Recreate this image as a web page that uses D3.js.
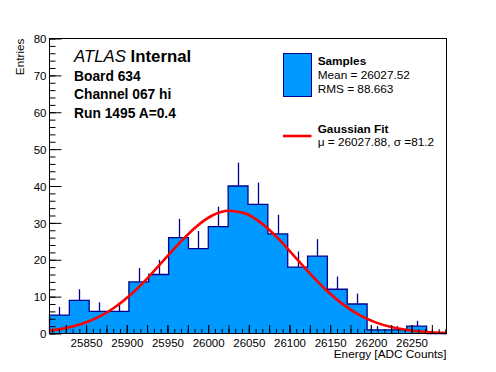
<!DOCTYPE html>
<html>
<head>
<meta charset="utf-8">
<script src="https://cdn.jsdelivr.net/npm/d3@7"></script>
<style>
	body { margin: 0; background: #fff; }
	text { font-family: "Liberation Sans", Arial, Helvetica, sans-serif; }
	.axis path { display: none; }
	.axis line { stroke: #000; }
</style>
</head>
<body>
<div id="chart"></div>
<script>
// histogram: 20 bins starting at BIN_LO, width BIN_W
var BIN_LO = 25805, BIN_W = 24.4;
var counts = [5, 9, 6, 6, 14, 16, 26, 23, 29, 40, 35, 27, 18, 21, 12, 8, 1, 1, 2, 0];

// gaussian fit curve
var fitX = [25805, 25825, 25845, 25865, 25885, 25905, 25925, 25945, 25965, 25985, 26005, 26025,
	26045, 26065, 26085, 26105, 26125, 26145, 26165, 26185, 26205, 26225, 26245, 26265, 26285, 26293];
var fitY = [0.77, 1.46, 2.63, 4.44, 7.06, 10.57, 14.9, 19.75, 24.6, 28.9, 32.0, 33.3,
	32.6, 30.0, 26.0, 21.2, 16.3, 11.8, 8.03, 5.14, 3.09, 1.75, 0.94, 0.47, 0.22, 0.16];

var xLabels = [25850, 25900, 25950, 26000, 26050, 26100, 26150, 26200, 26250];
var yLabels = [0, 10, 20, 30, 40, 50, 60, 70, 80];

var infoLines = ["Board 634", "Channel 067 hi", "Run 1495 A=0.4"];
var legendSamples = ["Mean = 26027.52", "RMS = 88.663"];
var legendFit = "\u03bc = 26027.88, \u03c3 =81.2";

const
	W = 496, H = 372,
	L = 49.5, R = 446.5, T = 38.5, B = 333.5,
	FILL = "#0099ff", LINE = "#00008f";

var svg = d3.select("#chart").append("svg")
	.attr("width", W).attr("height", H);

var x = d3.scaleLinear().domain([BIN_LO, BIN_LO + counts.length * BIN_W]).range([L, R]);
var y = d3.scaleLinear().domain([0, 80]).range([B, T]);

var bins = counts.map(function(c, i) {
	return {x0: BIN_LO + i * BIN_W, x1: BIN_LO + (i + 1) * BIN_W, n: c};
});

// step outline, also used as the filled shape
var steps = [[bins[0].x0, 0]];
bins.forEach(function(d) { steps.push([d.x0, d.n]); steps.push([d.x1, d.n]); });
steps.push([bins[bins.length - 1].x1, 0]);
var stepLine = d3.line().x(function(d) { return x(d[0]); }).y(function(d) { return y(d[1]); });

svg.append("path")
	.attr("d", stepLine(steps) + "Z")
	.style("fill", FILL).style("stroke", "none");
svg.append("path")
	.attr("d", stepLine(steps))
	.style("fill", "none").style("stroke", LINE).style("stroke-width", 1.3);

// error bars (upper half, lower part is hidden by the fill)
svg.append("g").selectAll("line")
	.data(bins.filter(function(d) { return d.n > 0; }))
	.enter().append("line")
	.attr("x1", function(d) { return Math.round(x((d.x0 + d.x1) / 2)) + .5; })
	.attr("x2", function(d) { return Math.round(x((d.x0 + d.x1) / 2)) + .5; })
	.attr("y1", function(d) { return y(d.n); })
	.attr("y2", function(d) { return y(d.n + Math.sqrt(d.n)); })
	.style("stroke", LINE).style("stroke-width", 1.3);

// fit curve
svg.append("path")
	.attr("d", d3.line().curve(d3.curveMonotoneX)
		.x(function(d, i) { return x(fitX[i]); })
		.y(function(d) { return y(d); })(fitY))
	.style("fill", "none").style("stroke", "#ff0000").style("stroke-width", 2.6);

// axes, ticks pointing inward
function ticksRange(a, b, step) {
	var out = [];
	for (var v = a; v <= b + 1e-6; v += step) out.push(v);
	return out;
}
var x0 = Math.ceil(x.domain()[0] / 25) * 25;
var xMid = ticksRange(x0, x.domain()[1], 25);
var xMinor = ticksRange(x0 - 25, x.domain()[1], 25 / 3).filter(function(v) {
	return v > x.domain()[0] && v < x.domain()[1];
});

svg.append("g").attr("class", "axis")
	.attr("transform", "translate(0," + B + ")")
	.call(d3.axisBottom(x).tickValues(xMinor).tickSize(-4.5).tickFormat(""));
svg.append("g").attr("class", "axis")
	.attr("transform", "translate(0," + B + ")")
	.call(d3.axisBottom(x).tickValues(xMid).tickSize(-8.5).tickFormat(""));
var xg = svg.append("g").attr("class", "axis")
	.attr("transform", "translate(0," + B + ")")
	.call(d3.axisBottom(x).tickValues(xLabels).tickSize(-8.5).tickPadding(0).tickFormat(d3.format("d")));
xg.selectAll("text").attr("y", 13.5).attr("dy", 0)
	.style("font-size", "11.5px").style("fill", "#000");

svg.append("g").attr("class", "axis")
	.attr("transform", "translate(" + L + ",0)")
	.call(d3.axisLeft(y).tickValues(ticksRange(0, 80, 2)).tickSize(-6).tickFormat(""));
var yg = svg.append("g").attr("class", "axis")
	.attr("transform", "translate(" + L + ",0)")
	.call(d3.axisLeft(y).tickValues(yLabels).tickSize(-12).tickPadding(0).tickFormat(d3.format("d")));
yg.selectAll("text").attr("x", -3).attr("dy", "0.36em")
	.style("font-size", "11.5px").style("fill", "#000");

// frame
svg.append("rect")
	.attr("x", L).attr("y", T).attr("width", R - L).attr("height", B - T)
	.style("fill", "none").style("stroke", "#000");

// axis titles
svg.append("text")
	.attr("x", R).attr("y", 358).attr("text-anchor", "end")
	.style("font-size", "11.8px").text("Energy [ADC Counts]");
svg.append("text")
	.attr("transform", "translate(23.5," + T + ") rotate(-90)")
	.attr("text-anchor", "end")
	.style("font-size", "11.8px").text("Entries");

// ATLAS label block
var atlas = svg.append("text").attr("x", 74).attr("y", 62).style("font-size", "16.8px");
atlas.append("tspan").style("font-style", "italic").text("ATLAS");
atlas.append("tspan").style("font-weight", "bold").text(" Internal");
svg.selectAll(".info")
	.data(infoLines)
	.enter().append("text")
	.attr("class", "info")
	.attr("x", 74)
	.attr("y", function(d, i) { return 81 + i * 18.4; })
	.style("font-size", "13.8px").style("font-weight", "bold")
	.text(function(d) { return d; });

// legend
var lg = svg.append("g");
lg.append("rect")
	.attr("x", 283.5).attr("y", 53.5).attr("width", 28).attr("height", 43)
	.style("fill", FILL).style("stroke", LINE).style("stroke-width", 1);
lg.append("text").attr("x", 317.7).attr("y", 65)
	.style("font-size", "11.8px").style("font-weight", "bold").text("Samples");
lg.selectAll(".ls")
	.data(legendSamples)
	.enter().append("text")
	.attr("class", "ls")
	.attr("x", 317.7)
	.attr("y", function(d, i) { return 79.3 + i * 14; })
	.style("font-size", "11.8px")
	.text(function(d) { return d; });
lg.append("line")
	.attr("x1", 283).attr("x2", 311.5).attr("y1", 136).attr("y2", 136)
	.style("stroke", "#ff0000").style("stroke-width", 2.6);
lg.append("text").attr("x", 317.7).attr("y", 132.5)
	.style("font-size", "11.8px").style("font-weight", "bold").text("Gaussian Fit");
lg.append("text").attr("x", 317.7).attr("y", 146)
	.style("font-size", "11.8px").text(legendFit);
</script>
</body>
</html>
